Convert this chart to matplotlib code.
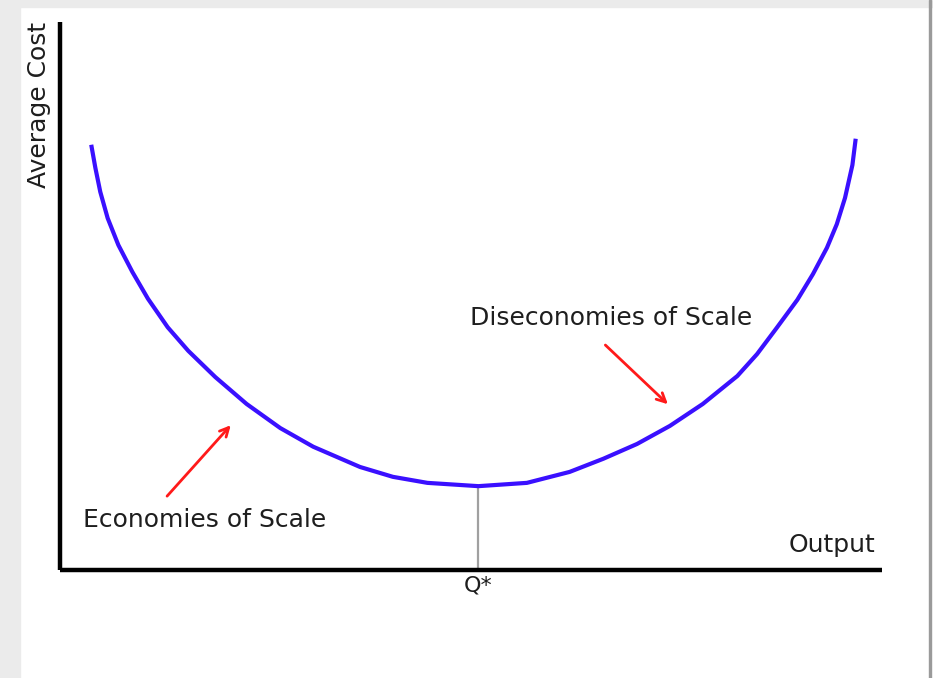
import matplotlib.pyplot as plt
from matplotlib.patches import Rectangle

# average cost curve (output 0-100, cost 0-100 in arbitrary units)
output = [3.8, 4.3, 4.9, 5.8, 7.1, 8.8, 10.7, 13.1, 15.6, 18.9, 22.7, 26.8, 30.8, 36.5,
          40.5, 44.7, 50.9, 56.8, 62.0, 66.1, 70.2, 74.2, 78.2, 82.4, 84.8, 87.2, 89.7,
          91.6, 93.3, 94.5, 95.5, 96.4, 96.8]
avg_cost = [77.6, 73.4, 69.0, 64.2, 59.3, 54.4, 49.5, 44.3, 40.0, 35.2, 30.3, 25.9, 22.5,
            18.8, 17.0, 15.9, 15.3, 15.9, 17.9, 20.3, 23.0, 26.3, 30.3, 35.4, 39.4, 44.2,
            49.3, 54.0, 58.8, 63.1, 67.9, 73.9, 78.7]
q_star = 50.9
min_cost = 15.3

W, H = 933, 678
fig = plt.figure(figsize=(W / 100, H / 100), dpi=100)
fig.patch.set_facecolor('white')

# light gray page border
fig.patches.append(Rectangle((0, 0), 20 / W, 1, transform=fig.transFigure,
                             color='#ebebeb', zorder=0))
fig.patches.append(Rectangle((0, 1 - 7 / H), 1, 7 / H, transform=fig.transFigure,
                             color='#ebebeb', zorder=0))
fig.patches.append(Rectangle((929 / W, 0), 2 / W, 1, transform=fig.transFigure,
                             color='#9a9a9a', zorder=0))

ax = fig.add_axes([60 / W, 1 - 570 / H, 822 / W, 548 / H])
ax.set_xlim(0, 100)
ax.set_ylim(0, 100)
ax.set_facecolor('none')
for s in ['top', 'right']:
    ax.spines[s].set_visible(False)
for s in ['left', 'bottom']:
    ax.spines[s].set_linewidth(3.2)
    ax.spines[s].set_color('black')
    ax.spines[s].set_capstyle('butt')
ax.set_xticks([])
ax.set_yticks([])

ax.plot(output, avg_cost, color='#3a10ff', lw=3, solid_capstyle='butt',
        solid_joinstyle='round', clip_on=False)
ax.plot([q_star, q_star], [0, min_cost], color='#a0a0a0', lw=1.6, zorder=1)

txt = dict(color='#1e1e1e', fontsize=18, family='DejaVu Sans')
ax.text(-0.026, 1.0, 'Average Cost', rotation=90, ha='center', va='top',
        transform=ax.transAxes, **txt)
ax.text(93.9, 4.6, 'Output', ha='center', va='center', **txt)
ax.text(q_star, -2.9, 'Q*', ha='center', va='center', color='#1e1e1e', fontsize=16)
ax.text(2.8, 9.1, 'Economies of Scale', ha='left', va='center', **txt)
ax.text(49.9, 46.0, 'Diseconomies of Scale', ha='left', va='center', **txt)

arrow = dict(arrowstyle='->', color='#ff1a1a', lw=2, mutation_scale=16)
ax.annotate('', xy=(21.0, 26.8), xytext=(12.8, 13.1), arrowprops=arrow)
ax.annotate('', xy=(74.2, 29.9), xytext=(66.1, 41.4), arrowprops=arrow)

fig.savefig('out.png', dpi=100)
